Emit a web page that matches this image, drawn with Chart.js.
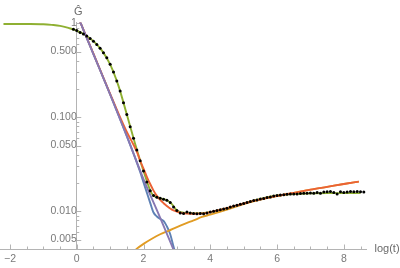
<!DOCTYPE html>
<html>
<head>
<meta charset="utf-8">
<script src="https://cdn.jsdelivr.net/npm/chart.js@4/dist/chart.umd.min.js"></script>
<style>
  html, body { margin: 0; padding: 0; background: #ffffff; }
  #wrap { width: 400px; height: 268px; }
</style>
</head>
<body>
<div id="wrap"><canvas id="c" width="400" height="268"></canvas></div>
<script>
// ---- data ----
const dataX = [-0.1,0.0,0.1,0.2,0.3,0.4,0.5,0.6,0.7,0.8,0.9,1.0,1.1,1.2,1.3,1.4,1.5,1.6,1.7,1.8,1.9,
  2.0,2.1,2.2,2.3,2.4,2.5,2.6,2.7,2.8,2.9,3.0,3.1,3.2,3.3,3.4,3.5,3.6,3.7,3.8,3.9,
  4.0,4.1,4.2,4.3,4.4,4.5,4.6,4.7,4.8,4.9,5.0,5.1,5.2,5.3,5.4,5.5,5.6,5.7,5.8,5.9,
  6.0,6.1,6.2,6.3,6.4,6.5,6.6,6.7,6.8,6.9,7.0,7.1,7.2,7.3,7.4,7.5,7.6,7.7,7.8,7.9,
  8.0,8.1,8.2,8.3,8.4,8.5,8.6];
const dataY = [0.862,0.838,0.800,0.768,0.732,0.690,0.646,0.596,0.542,0.487,0.430,0.366,0.303,0.243,0.190,0.143,0.107,0.0795,0.0598,0.0449,0.0344,
  0.0268,0.0205,0.0165,0.0147,0.0141,0.0138,0.0134,0.0131,0.0124,0.0111,0.0102,0.0096,0.0095,0.0098,0.0096,0.0095,0.0094,0.0095,0.0094,0.0096,
  0.0098,0.0100,0.0102,0.0104,0.0106,0.0108,0.0111,0.0114,0.0116,0.0119,0.0121,0.0124,0.0127,0.0130,0.0132,0.0135,0.0137,0.0140,0.0142,0.0145,
  0.0147,0.0149,0.0150,0.0152,0.0153,0.0153,0.0153,0.0155,0.0156,0.0156,0.0157,0.0156,0.0158,0.0156,0.0160,0.0161,0.0162,0.0158,0.0153,0.0161,
  0.0158,0.0160,0.0162,0.0161,0.0162,0.0161,0.0160];

const greenX = [-2.25,-2.0,-1.5,-1.0,-0.75,-0.5,-0.25,0.0,0.25,0.5,0.75,1.0,1.25,1.5,1.75,2.0,2.25,2.5,2.7,2.85,3.0,3.25,3.5,4.0,4.5,5.0,5.5,6.0,6.5,7.0,7.5,8.0,8.5];
const greenY = [0.984,0.984,0.983,0.977,0.962,0.940,0.893,0.836,0.752,0.646,0.515,0.366,0.216,0.107,0.052,0.0268,0.0154,0.0138,0.0131,0.0119,0.0102,0.0096,0.0095,0.0098,0.0108,0.0121,0.0135,0.0147,0.0153,0.0155,0.0156,0.0156,0.0156];

const redX = [0.1,0.5,1.0,1.3,1.5,1.7,1.8,1.9,2.0,2.1,2.2,2.3,2.4,2.5,2.6,2.7,2.8,2.9,3.0,3.2,3.5,3.8,4.0,4.5,5.0,5.5,6.0,6.5,7.0,7.5,8.0,8.45];
const redY = [1.04,0.475,0.178,0.100,0.070,0.051,0.043,0.0345,0.0285,0.0233,0.0195,0.0166,0.0146,0.0132,0.0122,0.0114,0.0107,0.0102,0.0099,0.0095,0.0094,0.0095,0.0098,0.0108,0.0121,0.0134,0.0146,0.0157,0.0170,0.0182,0.0195,0.0207];

const purpleX = [0.1,0.5,1.0,1.5,2.0,2.5,3.0];
const purpleY = [1.04,0.47,0.175,0.063,0.022,0.0085,0.0032];

const blueX = [0.1,0.5,1.0,1.5,1.8,1.9,2.0,2.1,2.2,2.3,2.4,2.5,2.6,2.7,2.8,2.9,3.0];
const blueY = [1.04,0.47,0.175,0.063,0.033,0.0262,0.0203,0.0158,0.0123,0.0097,0.0088,0.0083,0.0079,0.0069,0.0057,0.0042,0.0032];

const orangeX = [1.7,1.8,2.0,2.25,2.5,2.75,3.0,3.25,3.5,3.75,4.0,4.5,5.0,5.5,6.0,6.5,7.0,7.5,8.0,8.45];
const orangeY = [0.0037,0.0040,0.0045,0.0051,0.0057,0.0062,0.0068,0.0074,0.0080,0.0087,0.0092,0.0104,0.0119,0.0133,0.0145,0.0157,0.0170,0.0182,0.0195,0.0207];

const xTickValues = [-2, 0, 2, 4, 6, 8];
const xTickLabels = ['\u22122', '0', '2', '4', '6', '8'];
const yTickValues = [1, 0.5, 0.1, 0.05, 0.01, 0.005];
const yTickLabels = ['1', '0.500', '0.100', '0.050', '0.010', '0.005'];
const yLabel = '\u011C';
const xLabel = 'log(t)';

// ---- helpers ----
const pts = (xs, ys) => xs.map((x, i) => ({x: x, y: ys[i]}));
const AXIS = '#b4b4b4';
const TXT = '#7a7a7a';
const FONT = 'Liberation Sans, Arial, sans-serif';
const FRAME = { left: 0, right: 366, top: 22.5, bottom: 249 };
const X0_PX = 75.3, PX_PER_X = 33.55;

function matchIdx(list, v) {
  for (let i = 0; i < list.length; i++) {
    if (Math.abs(v - list[i]) <= Math.abs(list[i]) * 1e-6 + 1e-9) return i;
  }
  return -1;
}

const axisPlugin = {
  id: 'mmaAxes',
  beforeDatasetsDraw(chart) {
    const ctx = chart.ctx;
    const xs = chart.scales.x, ys = chart.scales.y;
    const area = chart.chartArea;
    const ax = xs.getPixelForValue(0);
    ctx.save();
    ctx.strokeStyle = AXIS;
    ctx.lineWidth = 1;
    // extend the x axis line to the left edge of the canvas
    const yb = Math.round(area.bottom) + 0.5;
    ctx.beginPath();
    ctx.moveTo(0, yb);
    ctx.lineTo(area.left + 1, yb);
    ctx.stroke();
    xs.ticks.forEach(t => {
      const p = Math.round(xs.getPixelForValue(t.value)) + 0.5;
      const len = matchIdx(xTickValues, t.value) >= 0 ? 4.5 : 2.5;
      ctx.beginPath();
      ctx.moveTo(p, area.bottom);
      ctx.lineTo(p, area.bottom - len);
      ctx.stroke();
    });
    ys.ticks.forEach(t => {
      const v = t.value;
      const e = Math.floor(Math.log10(v) + 1e-9);
      const m = v / Math.pow(10, e);
      if (Math.abs(m - Math.round(m)) > 1e-6) return;
      const p = Math.round(ys.getPixelForValue(v)) + 0.5;
      const len = matchIdx(yTickValues, v) >= 0 ? 4.5 : 2.5;
      ctx.beginPath();
      ctx.moveTo(ax, p);
      ctx.lineTo(ax + len, p);
      ctx.stroke();
    });
    ctx.restore();
  },
  afterDraw(chart) {
    const ctx = chart.ctx;
    const xs = chart.scales.x;
    const area = chart.chartArea;
    const ax = xs.getPixelForValue(0);
    ctx.save();
    ctx.fillStyle = '#6a6a6a';
    ctx.font = '11px ' + FONT;
    ctx.textAlign = 'center';
    ctx.textBaseline = 'alphabetic';
    ctx.fillText(yLabel, ax + 1.5, area.top - 7.5);
    ctx.textAlign = 'left';
    ctx.textBaseline = 'middle';
    ctx.fillText(xLabel, area.right + 8.5, area.bottom - 0.5);
    ctx.restore();
  }
};

const lineDs = (label, xs, ys, color) => ({
  label: label,
  data: pts(xs, ys),
  borderColor: color,
  backgroundColor: color,
  borderWidth: 1.9,
  pointRadius: 0,
  fill: false,
  cubicInterpolationMode: 'monotone',
  showLine: true
});

const greenDs = lineDs('green', greenX, greenY, '#8FB032');
greenDs.clip = { left: 6, top: 1, right: 1, bottom: 1 };

const chart = new Chart(document.getElementById('c'), {
  type: 'line',
  data: {
    datasets: [
      {
        label: 'data',
        data: pts(dataX, dataY),
        showLine: false,
        pointRadius: 1.5,
        pointBorderWidth: 0,
        pointBackgroundColor: '#000000',
        borderColor: '#000000'
      },
      lineDs('purple', purpleX, purpleY, '#8778B3'),
      lineDs('red', redX, redY, '#EB6235'),
      greenDs,
      lineDs('orange', orangeX, orangeY, '#E19C24'),
      lineDs('blue', blueX, blueY, '#5E81B5')
    ]
  },
  options: {
    responsive: false,
    animation: false,
    devicePixelRatio: 1,
    layout: { padding: { left: 0, right: 34, top: 22.5, bottom: 2.4 } },
    plugins: { legend: { display: false }, tooltip: { enabled: false } },
    scales: {
      x: {
        type: 'linear',
        position: 'bottom',
        min: -2.25,
        max: 8.68,
        grid: { display: false, drawTicks: false },
        border: { display: true, color: AXIS, width: 1 },
        ticks: {
          stepSize: 0.5,
          includeBounds: false,
          autoSkip: false,
          maxRotation: 0,
          padding: 4,
          color: TXT,
          font: { size: 10.5, family: FONT },
          callback: (v) => { const i = matchIdx(xTickValues, v); return i >= 0 ? xTickLabels[i] : ''; }
        }
      },
      y: {
        type: 'logarithmic',
        position: { x: 0 },
        min: 0.00397,
        max: 1.02,
        grid: { display: false, drawTicks: false },
        border: { display: true, color: AXIS, width: 1 },
        ticks: {
          autoSkip: false,
          padding: 4,
          color: TXT,
          font: { size: 10.5, family: FONT },
          callback: (v) => { const i = matchIdx(yTickValues, v); return i >= 0 ? yTickLabels[i] : ''; }
        }
      }
    }
  },
  plugins: [axisPlugin]
});

// fit the plot frame to the target frame (layout only)
for (let pass = 0; pass < 3; pass++) {
  const ca = chart.chartArea;
  const o = chart.config.options;
  const p = o.layout.padding;
  o.layout.padding = {
    left: p.left - (ca.left - FRAME.left),
    right: p.right + (ca.right - FRAME.right),
    top: p.top + (FRAME.top - ca.top),
    bottom: p.bottom + (ca.bottom - FRAME.bottom)
  };
  chart.update('none');
  const c2 = chart.chartArea;
  o.scales.x.min = (c2.left - X0_PX) / PX_PER_X;
  o.scales.x.max = (c2.right - X0_PX) / PX_PER_X;
  chart.update('none');
}
</script>
</body>
</html>
